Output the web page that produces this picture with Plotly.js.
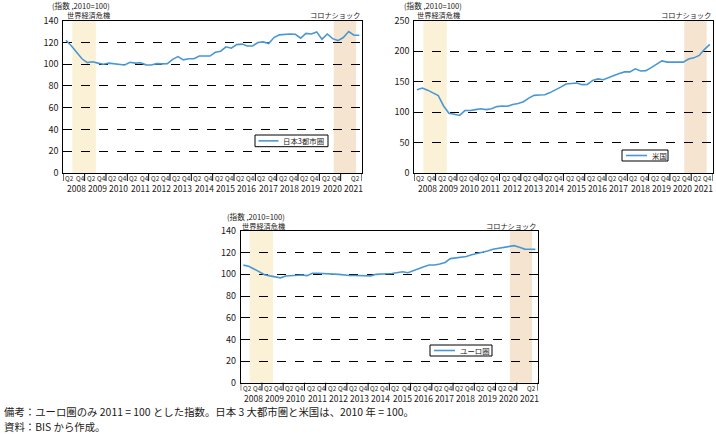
<!DOCTYPE html>
<html>
<head>
<meta charset="utf-8">
<script src="https://cdn.plot.ly/plotly-3.0.1.min.js"></script>
<style>
html,body{margin:0;padding:0;background:#fff;}
#chart{width:716px;height:434px;}
</style>
</head>
<body>
<div id="chart"></div>
<script>
// ---- data (quarterly, 2008Q1 .. 2021Q4) ----
const years = ['2008','2009','2010','2011','2012','2013','2014','2015','2016','2017','2018','2019','2020','2021'];
const quarterNames = ['Q2','Q4'];
const japan3 = [122,117,111,105,101.5,102.3,101,100,101,100.3,
                100,99.3,101.8,101,101.3,99.4,99.3,100.5,100.3,100.5,
                104.5,107,104,105,105,107.5,107.5,107.5,111,112,
                116,114.7,118,118.5,116.8,116.8,120,120.5,119,124.5,
                127,127.5,127.8,127.5,124,128.3,127.8,129.7,123,127.8,
                123.5,121.7,124.5,130,126.6,126.6];
const usa = [136.5,139.5,136,131,127,110,98,96.5,94.5,102.5,
             102.6,104,105.5,104,105.5,109,110,109.5,112.5,114,
             117,123,127.5,128,128.5,132,136,141,146,147.4,
             147.8,145,145.5,152,154.5,153,157,160,163.5,166,
             166,171,167.5,168,173,179,184,182,182,183,
             182,187,189,193,203,211];
const euro = [108.5,107.5,105,102,99.7,98.6,97.8,96.8,98.5,98.6,
              98.8,99.4,98.8,101,101,100.5,100.3,100.2,100,99.4,
              99,98.9,98.6,98.5,98.6,100,100.6,100.6,100.8,101.5,
              102.4,101.5,103.5,105,107,108.6,108.6,109.5,111,114.5,
              115.2,115.4,116.5,118,119,119.8,121.5,123.2,124,124.5,
              125.5,126.5,125,123.3,123.2,123];
const seriesNames = ['日本3都市圏','米国','ユーロ圏'];
const unitLabel = '(指数 ,2010=100)';
const crisisLabel = '世界経済危機';
const coronaLabel = 'コロナショック';
const noteLines = ['備考：ユーロ圏のみ 2011 = 100 とした指数。日本 3 大都市圏と米国は、2010 年 = 100。',
                   '資料：BIS から作成。'];

// ---- styling / geometry ----
const W = 716, H = 434;
const FONT = '"Noto Sans CJK JP", "Noto Sans", sans-serif';
const TXT = '#231815';
const LINE = '#4a98d3';
const CRISIS_FILL = '#fbf1d6';
const CORONA_FILL = '#f5e4cf';
const crisisSpan = [1.2, 5.6];
const coronaSpan = [50.2, 54.4];
const px = x => x / W;
const py = y => 1 - y / H;

const panels = [
  {id:'', data: japan3, name: seriesNames[0], left:63.3, right:362, top:20.7, bottom:173,
   yMax:140, dtick:20, fullLast:false, unitX:50, cLabY:15, critX:65, coronaR:362.5,
   legend:{x0:255, x1:328, y0:135, y1:146.7, l0:258.5, l1:278.5, tx:281}},
  {id:'2', data: usa, name: seriesNames[1], left:414.3, right:712.5, top:20.7, bottom:173,
   yMax:250, dtick:50, fullLast:true, unitX:401.5, cLabY:15, critX:415, coronaR:712.5,
   legend:{x0:622, x1:668, y0:150, y1:161, l0:626, l1:647, tx:650}},
  {id:'3', data: euro, name: seriesNames[2], left:240.7, right:538, top:231, bottom:382.7,
   yMax:140, dtick:20, fullLast:false, unitX:225, cLabY:225.5, critX:239.5, coronaR:538.3,
   legend:{x0:430, x1:492, y0:345, y1:356, l0:434, l1:455, tx:458}}
];

const traces = [];
const layout = {
  width: W, height: H, autosize: false,
  margin: {l:0, r:0, t:0, b:0, pad:0},
  paper_bgcolor: '#fff', plot_bgcolor: 'rgba(0,0,0,0)',
  font: {family: FONT, color: TXT, size: 8},
  shapes: [], annotations: [], showlegend: false
};

panels.forEach((p) => {
  const xa = 'x' + p.id, ya = 'y' + p.id;
  const xKey = 'xaxis' + p.id, yKey = 'yaxis' + p.id;
  const xs = p.data.map((_, i) => i);
  traces.push({
    type: 'scatter', mode: 'lines', x: xs, y: p.data, name: p.name,
    xaxis: xa, yaxis: ya,
    line: {color: LINE, width: 1.6}, hoverinfo: 'skip'
  });

  layout[xKey] = {
    domain: [px(p.left), px(p.right)], range: [-0.5, 55.5], anchor: ya,
    showgrid: false, zeroline: false, showline: true, mirror: true,
    linecolor: '#000', linewidth: 1, ticks: '', showticklabels: false,
    fixedrange: true
  };
  layout[yKey] = {
    domain: [py(p.bottom), py(p.top)], range: [0, p.yMax], anchor: xa,
    dtick: p.dtick, tick0: 0, showgrid: true, gridcolor: '#000', gridwidth: 1,
    griddash: 'dash', zeroline: false, showline: true, mirror: true,
    linecolor: '#000', linewidth: 1, ticks: '',
    tickfont: {size: 9, family: FONT, color: TXT}, ticklabelstandoff: 2,
    fixedrange: true
  };

  // shading
  [[crisisSpan, CRISIS_FILL], [coronaSpan, CORONA_FILL]].forEach(([sp, col]) => {
    layout.shapes.push({type:'rect', xref: xa, yref: ya + ' domain', x0: sp[0], x1: sp[1], y0: 0, y1: 1,
      fillcolor: col, line: {width: 0}, layer: 'below'});
  });
  // year separators under axis
  for (let k = 0; k <= 14; k++) {
    const xv = k === 14 ? 55.5 : 4 * k - 0.5;
    layout.shapes.push({type:'line', xref: xa, yref: ya + ' domain', x0: xv, x1: xv, y0: 0,
      y1: -8 / (p.bottom - p.top), line: {color:'#000', width: 1}});
  }
  // quarter labels
  const nYears = p.fullLast ? years.length : years.length - 1;
  const qPos = [], qTxt = [];
  for (let k = 0; k < nYears; k++) {
    qPos.push(4 * k + 0.75); qTxt.push(quarterNames[0]);
    qPos.push(4 * k + 2.65); qTxt.push(quarterNames[1]);
  }
  if (!p.fullLast) { qPos.push(54.2); qTxt.push(quarterNames[0]); }
  qPos.forEach((xv, j) => {
    layout.annotations.push({xref: xa, yref: 'paper', x: xv, y: py(p.bottom + 5.5),
      text: qTxt[j], showarrow: false, xanchor: 'center', yanchor: 'middle',
      font: {size: 6.3, family: FONT, color: TXT}});
  });
  // year labels
  years.forEach((yr, k) => {
    layout.annotations.push({xref: xa, yref: 'paper', x: 4 * k + 1.9, y: py(p.bottom + 15),
      text: yr, showarrow: false, xanchor: 'center', yanchor: 'middle',
      font: {size: 8.5, family: FONT, color: TXT}});
  });
  // labels above plot
  layout.annotations.push({xref:'paper', yref:'paper', x: px(p.unitX), y: py(p.top - 14.8),
    text: unitLabel, showarrow:false, xanchor:'left', yanchor:'middle',
    font:{size: 7.6, family: FONT, color: TXT}});
  layout.annotations.push({xref:'paper', yref:'paper', x: px(p.critX), y: py(p.cLabY),
    text: crisisLabel, showarrow:false, xanchor:'left', yanchor:'middle',
    font:{size: 7.2, family: FONT, color: TXT}});
  layout.annotations.push({xref:'paper', yref:'paper', x: px(p.coronaR), y: py(p.cLabY),
    text: coronaLabel, showarrow:false, xanchor:'right', yanchor:'middle',
    font:{size: 7.2, family: FONT, color: TXT}});

  // legend box
  const L = p.legend;
  layout.shapes.push({type:'rect', xref:'paper', yref:'paper', x0: px(L.x0), x1: px(L.x1),
    y0: py(L.y1), y1: py(L.y0), fillcolor:'#fff', line:{color:'#000', width:1}, layer:'above'});
  const ly = (L.y0 + L.y1) / 2;
  layout.shapes.push({type:'line', xref:'paper', yref:'paper', x0: px(L.l0), x1: px(L.l1),
    y0: py(ly), y1: py(ly), line:{color: LINE, width: 1.6}, layer:'above'});
  layout.annotations.push({xref:'paper', yref:'paper', x: px(L.tx), y: py(ly),
    text: p.name, showarrow:false, xanchor:'left', yanchor:'middle',
    font:{size: 7.4, family: FONT, color: TXT}});
});

// notes
noteLines.forEach((t, i) => {
  layout.annotations.push({xref:'paper', yref:'paper', x: px(2), y: py(411.5 + 14.5 * i),
    text: t, showarrow:false, xanchor:'left', yanchor:'middle',
    font:{size: 10.4, family: FONT, color: TXT}});
});

Plotly.newPlot('chart', traces, layout, {displayModeBar: false, staticPlot: true});
</script>
</body>
</html>
